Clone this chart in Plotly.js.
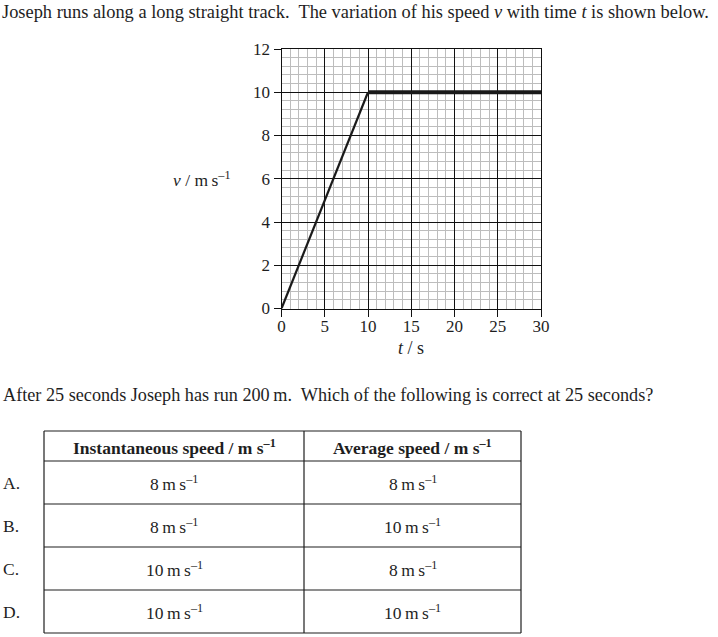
<!DOCTYPE html>
<html>
<head>
<meta charset="utf-8">
<script src="https://cdn.plot.ly/plotly-3.0.1.min.js"></script>
<style>html,body{margin:0;padding:0;background:#fff;}#chart{width:718px;height:637px;}</style>
</head>
<body>
<div id="chart"></div>
<script>
// Speed-time data
var riseT = [0, 10];
var riseV = [0, 10];
var flatT = [10, 30];
var flatV = [10, 10];

// Table content
var rowLabels = ['A.', 'B.', 'C.', 'D.'];
var headers = ['Instantaneous speed / m s<sup>–1</sup>', 'Average speed / m s<sup>–1</sup>'];
var instSpeed = [8, 8, 10, 10];
var avgSpeed = [8, 10, 8, 10];

var introText = 'Joseph runs along a long straight track.&nbsp; The variation of his speed <i>v</i> with time <i>t</i> is shown below.';
var questionText = 'After 25 seconds Joseph has run 200&#8201;m.&nbsp; Which of the following is correct at 25 seconds?';
var yLabel = '<i>v</i> / m&#8201;s<sup>–1</sup>';
var xLabel = '<i>t</i> / s';

var W = 718, H = 637;
function px(x) { return x / W; }
function py(y) { return 1 - y / H; }

var serif = 'Liberation Serif, Times New Roman, serif';
var ink = '#1e1e1e';
function unit(n) { return n + '&#8201;m&#8201;s<sup>–1</sup>'; }

// table geometry (pixels)
var colEdges = [44, 304, 521];
var headerTop = 431, headerBottom = 461, rowH = 43;

var traces = [
  { type: 'scatter', mode: 'lines', x: riseT, y: riseV, line: { color: '#1a1a1a', width: 2.2 }, hoverinfo: 'skip', showlegend: false },
  { type: 'scatter', mode: 'lines', x: flatT, y: flatV, line: { color: '#1a1a1a', width: 4 }, hoverinfo: 'skip', showlegend: false }
];

function txt(text, x, y, xanchor, size) {
  return { text: text, xref: 'paper', yref: 'paper', x: px(x), y: py(y), xanchor: xanchor, yanchor: 'middle', showarrow: false, font: { family: serif, size: size, color: ink } };
}

var annotations = [
  txt(introText, 0, 12, 'left', 18.4),
  txt(questionText, 1, 395, 'left', 18.2),
  txt(yLabel, 233, 179, 'right', 17.5),
  txt(xLabel, 411, 348, 'center', 18)
];

var shapes = [];
var nRows = instSpeed.length;
var tableBottom = headerBottom + nRows * rowH;
var lineStyle = { color: ink, width: 1.2 };
var hLines = [headerTop, headerBottom];
for (var r = 1; r <= nRows; r++) hLines.push(headerBottom + r * rowH);
hLines.forEach(function (y) {
  shapes.push({ type: 'line', xref: 'paper', yref: 'paper', x0: px(colEdges[0]), x1: px(colEdges[2]), y0: py(y), y1: py(y), line: lineStyle });
});
colEdges.forEach(function (x) {
  shapes.push({ type: 'line', xref: 'paper', yref: 'paper', x0: px(x), x1: px(x), y0: py(headerTop), y1: py(tableBottom), line: lineStyle });
});

var colCenters = [(colEdges[0] + colEdges[1]) / 2, (colEdges[1] + colEdges[2]) / 2];
headers.forEach(function (h, i) {
  annotations.push(txt('<b>' + h + '</b>', colCenters[i], (headerTop + headerBottom) / 2 + 1, 'center', 17.5));
});
rowLabels.forEach(function (lab, i) {
  var yc = headerBottom + (i + 0.5) * rowH;
  annotations.push(txt(lab, 1, yc, 'left', 17.5));
  annotations.push(txt(unit(instSpeed[i]), colCenters[0], yc, 'center', 17.5));
  annotations.push(txt(unit(avgSpeed[i]), colCenters[1], yc, 'center', 17.5));
});

var layout = {
  width: W, height: H,
  margin: { l: 0, r: 0, t: 0, b: 0 },
  font: { family: serif, size: 17, color: ink },
  paper_bgcolor: '#fff', plot_bgcolor: '#fff',
  showlegend: false,
  xaxis: {
    domain: [px(281.5), px(541)],
    range: [0, 30], dtick: 5, tick0: 0,
    showgrid: true, gridcolor: '#111', gridwidth: 1,
    minor: { dtick: 1, showgrid: true, gridcolor: '#bdbdbd', gridwidth: 1 },
    showline: true, linecolor: '#111', linewidth: 1, mirror: true,
    ticks: 'outside', ticklen: 7, tickcolor: '#111',
    ticklabelstandoff: -5,
    zeroline: false,
    tickfont: { family: serif, size: 17, color: ink },
    fixedrange: true
  },
  yaxis: {
    domain: [py(308.5), py(49)],
    range: [0, 12], dtick: 2, tick0: 0,
    showgrid: true, gridcolor: '#111', gridwidth: 1,
    minor: { dtick: 0.4, showgrid: true, gridcolor: '#bdbdbd', gridwidth: 1 },
    showline: true, linecolor: '#111', linewidth: 1, mirror: true,
    ticks: 'outside', ticklen: 7, tickcolor: '#111',
    zeroline: false,
    tickfont: { family: serif, size: 17, color: ink },
    fixedrange: true
  },
  shapes: shapes,
  annotations: annotations
};

Plotly.newPlot('chart', traces, layout, { displayModeBar: false, staticPlot: true });
</script>
</body>
</html>
